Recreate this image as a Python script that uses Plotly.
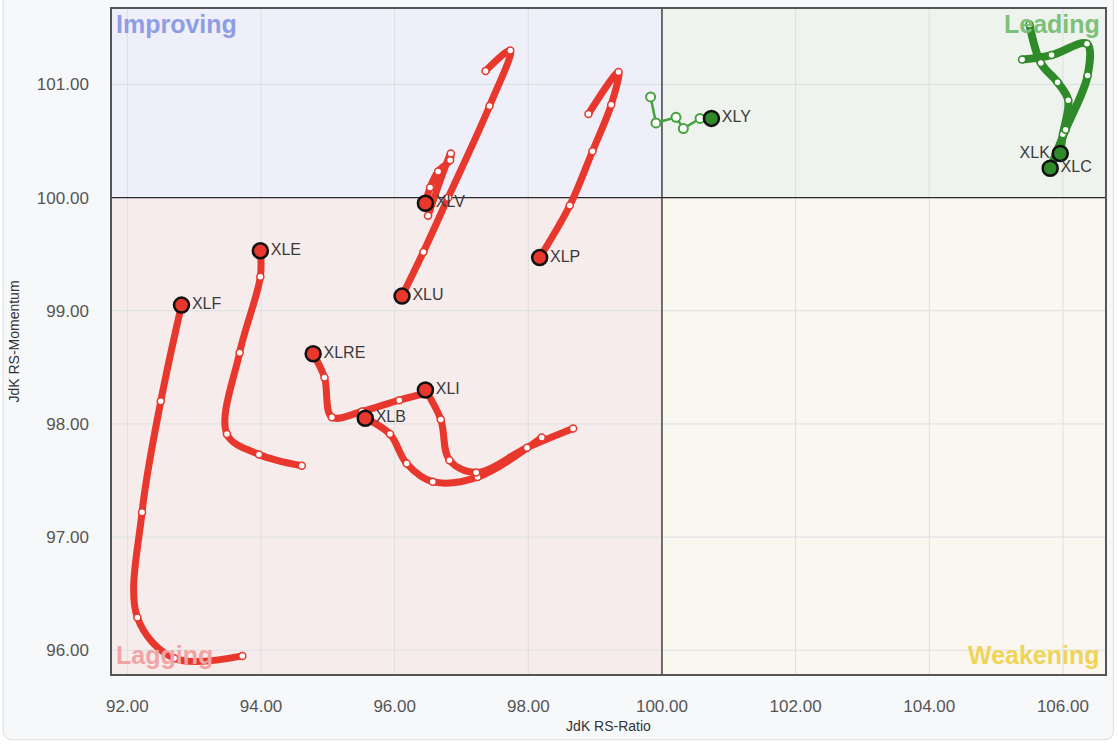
import plotly.graph_objects as go

# ---------------- data ----------------
red_names = ["XLF", "XLE", "XLU", "XLV", "XLP", "XLRE", "XLB", "XLI"]
green_names = ["XLK", "XLC"]
thin_names = ["XLY"]

XLF_x = [93.72, 92.70, 92.15, 92.22, 92.50, 92.81]
XLF_y = [95.95, 95.93, 96.29, 97.22, 98.20, 99.05]
XLE_x = [94.61, 93.97, 93.49, 93.68, 93.99, 93.99]
XLE_y = [97.63, 97.73, 97.91, 98.63, 99.30, 99.53]
XLU_x = [97.36, 97.73, 97.42, 96.80, 96.43, 96.11]
XLU_y = [101.12, 101.30, 100.81, 100.00, 99.52, 99.13]
XLV_x = [96.50, 96.84, 96.83, 96.65, 96.53, 96.46]
XLV_y = [99.84, 100.39, 100.33, 100.23, 100.09, 99.95]
XLP_x = [98.90, 99.35, 99.24, 98.96, 98.62, 98.17]
XLP_y = [100.74, 101.11, 100.82, 100.41, 99.93, 99.47]
XLRE_x = [96.52, 96.07, 95.51, 95.06, 94.95, 94.78]
XLRE_y = [98.28, 98.21, 98.11, 98.06, 98.41, 98.62]
XLB_x = [98.20, 97.24, 96.57, 96.18, 95.93, 95.56]
XLB_y = [97.88, 97.53, 97.49, 97.65, 97.91, 98.05]
XLI_x = [98.67, 97.98, 97.22, 96.82, 96.69, 96.46]
XLI_y = [97.96, 97.79, 97.57, 97.68, 98.04, 98.30]
XLY_x = [99.83, 99.91, 100.21, 100.32, 100.57, 100.74]
XLY_y = [100.89, 100.66, 100.71, 100.61, 100.70, 100.70]
XLK_x = [105.50, 105.67, 105.92, 106.08, 106.00, 105.96]
XLK_y = [101.53, 101.19, 101.02, 100.86, 100.56, 100.39]
XLC_x = [105.39, 105.83, 106.36, 106.37, 106.04, 105.81]
XLC_y = [101.22, 101.26, 101.36, 101.08, 100.60, 100.26]

series = {
    "XLF": (XLF_x, XLF_y), "XLE": (XLE_x, XLE_y), "XLU": (XLU_x, XLU_y),
    "XLV": (XLV_x, XLV_y), "XLP": (XLP_x, XLP_y), "XLRE": (XLRE_x, XLRE_y),
    "XLB": (XLB_x, XLB_y), "XLI": (XLI_x, XLI_y), "XLY": (XLY_x, XLY_y),
    "XLK": (XLK_x, XLK_y), "XLC": (XLC_x, XLC_y),
}
label_side = {"XLK": "middle left"}

X_RANGE = [91.77, 106.63]
Y_RANGE = [95.79, 101.667]
X_TICKS = [92, 94, 96, 98, 100, 102, 104, 106]
Y_TICKS = [96, 97, 98, 99, 100, 101]
CENTER = 100.0
quadrant_labels = ["Improving", "Leading", "Lagging", "Weakening"]

# ---------------- styles ----------------
RED = "#E8372C"
GREEN = "#2F8A2A"
GREEN_THIN = "#45A23F"
FONT = "Liberation Sans, Arial, sans-serif"

fig = go.Figure()

# lines
for name, (xs, ys) in series.items():
    if name in red_names:
        color, width, shape = RED, 7, "spline"
    elif name in green_names:
        color, width, shape = GREEN, 8, "spline"
    else:
        color, width, shape = GREEN_THIN, 2.5, "linear"
    fig.add_trace(go.Scatter(x=xs, y=ys, mode="lines",
                             line=dict(color=color, width=width, shape=shape, smoothing=1),
                             hoverinfo="skip", showlegend=False))

# tail markers
for name, (xs, ys) in series.items():
    if name in red_names:
        color, size, lw = RED, 7, 1.5
    elif name in green_names:
        color, size, lw = GREEN, 7, 1.5
    else:
        color, size, lw = GREEN_THIN, 9, 2
    fig.add_trace(go.Scatter(x=xs[:-1], y=ys[:-1], mode="markers",
                             marker=dict(size=size, color="white", line=dict(color=color, width=lw)),
                             hoverinfo="skip", showlegend=False))

# heads
for name, (xs, ys) in series.items():
    color = RED if name in red_names else GREEN
    fig.add_trace(go.Scatter(x=[xs[-1]], y=[ys[-1]], mode="markers+text",
                             text=[name], textposition=label_side.get(name, "middle right"),
                             textfont=dict(family=FONT, size=16, color="#3a3a3a"),
                             marker=dict(size=15, color=color, line=dict(color="#111111", width=2.5)),
                             hoverinfo="skip", showlegend=False))

# ---------------- shapes ----------------
shapes = []
pw, ph = 993.4, 667.0
def px2paper(px, py):
    return (px - 112) / pw, (674 - py) / ph
r = 10
x0p, _ = px2paper(3, 0)
x1p, _ = px2paper(1114, 0)
_, y1p = px2paper(0, -30)
_, y0p = px2paper(0, 740)
rx, ry = r / pw, r / ph
path = (f"M {x0p+rx},{y0p} L {x1p-rx},{y0p} Q {x1p},{y0p} {x1p},{y0p+ry} "
        f"L {x1p},{y1p} L {x0p},{y1p} L {x0p},{y0p+ry} Q {x0p},{y0p} {x0p+rx},{y0p} Z")
shapes.append(dict(type="path", xref="paper", yref="paper", path=path,
                   fillcolor="#F7F8FA", line=dict(color="#DADCE0", width=1), layer="below"))

quad_fill = [
    (X_RANGE[0], CENTER, CENTER, Y_RANGE[1], "#EEEFF8"),   # improving
    (CENTER, X_RANGE[1], CENTER, Y_RANGE[1], "#EEF3ED"),   # leading
    (X_RANGE[0], CENTER, Y_RANGE[0], CENTER, "#F7ECEC"),   # lagging
    (CENTER, X_RANGE[1], Y_RANGE[0], CENTER, "#F9F7EF"),   # weakening
]
for qx0, qx1, qy0, qy1, c in quad_fill:
    shapes.append(dict(type="rect", xref="x", yref="y", x0=qx0, x1=qx1, y0=qy0, y1=qy1,
                       fillcolor=c, line=dict(width=0), layer="below"))
# grid lines (as shapes in the same layer, so the centre lines can sit above them)
for gx in X_TICKS:
    shapes.append(dict(type="line", xref="x", yref="y", x0=gx, x1=gx, y0=Y_RANGE[0], y1=Y_RANGE[1],
                       line=dict(color="#DCDFE2", width=1), layer="below"))
for gy in Y_TICKS:
    shapes.append(dict(type="line", xref="x", yref="y", x0=X_RANGE[0], x1=X_RANGE[1], y0=gy, y1=gy,
                       line=dict(color="#DCDFE2", width=1), layer="below"))
shapes.append(dict(type="line", xref="x", yref="y", x0=CENTER, x1=CENTER, y0=Y_RANGE[0], y1=Y_RANGE[1],
                   line=dict(color="#2b2b2b", width=1.3), layer="below"))
shapes.append(dict(type="line", xref="x", yref="y", x0=X_RANGE[0], x1=X_RANGE[1], y0=CENTER, y1=CENTER,
                   line=dict(color="#2b2b2b", width=1.3), layer="below"))

# ---------------- quadrant labels ----------------
qfont = dict(family=FONT, size=25)
annotations = [
    dict(text=quadrant_labels[0], xref="paper", yref="paper", x=0, y=1, xanchor="left", yanchor="top",
         xshift=2, yshift=1, showarrow=False, font=dict(**qfont, color="#8E9DE6")),
    dict(text=quadrant_labels[1], xref="paper", yref="paper", x=1, y=1, xanchor="right", yanchor="top",
         xshift=-3, yshift=1, showarrow=False, font=dict(**qfont, color="#7DC07A")),
    dict(text=quadrant_labels[2], xref="paper", yref="paper", x=0, y=0, xanchor="left", yanchor="bottom",
         xshift=2, yshift=3, showarrow=False, font=dict(**qfont, color="#F2A3A3")),
    dict(text=quadrant_labels[3], xref="paper", yref="paper", x=1, y=0, xanchor="right", yanchor="bottom",
         xshift=-3, yshift=3, showarrow=False, font=dict(**qfont, color="#F0D458")),
]
for a in annotations:
    a["text"] = "<b>" + a["text"] + "</b>"

fig.update_layout(
    width=1118, height=744,
    margin=dict(l=112, r=13, t=7, b=70),
    paper_bgcolor="white",
    plot_bgcolor="rgba(0,0,0,0)",
    font=dict(family=FONT, color="#444"),
    shapes=shapes,
    annotations=annotations,
    xaxis=dict(range=X_RANGE, tickvals=X_TICKS, tickformat=".2f",
               showgrid=False, zeroline=False,
               showline=True, linecolor="#555", linewidth=1.5, mirror=True,
               ticks="", ticklabelstandoff=16, tickfont=dict(size=17, color="#555"),
               title=dict(text="JdK RS-Ratio", font=dict(size=14, color="#333"), standoff=6)),
    yaxis=dict(range=Y_RANGE, tickvals=Y_TICKS, tickformat=".2f",
               showgrid=False, zeroline=False,
               showline=True, linecolor="#555", linewidth=1.5, mirror=True,
               ticks="", ticklabelstandoff=18, tickfont=dict(size=17, color="#555"),
               title=dict(text="JdK RS-Momentum", font=dict(size=14, color="#333"), standoff=14)),
)

fig.write_html("out.html", config={"displayModeBar": False},
               post_script="document.body.style.margin='0';document.body.style.overflow='hidden';")
